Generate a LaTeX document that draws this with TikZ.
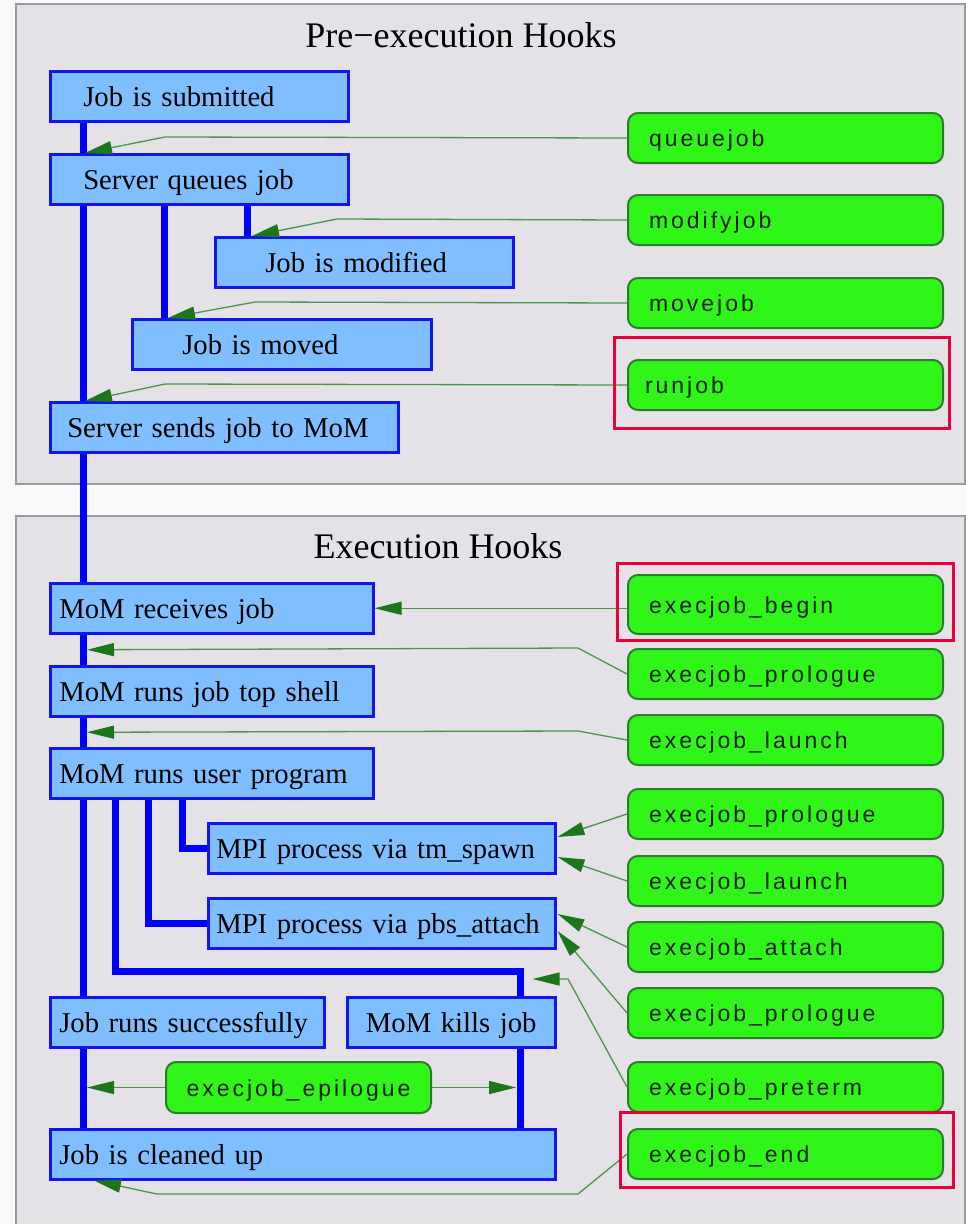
\documentclass[tikz,border=0pt]{standalone}
\usepackage{fontspec}
\setmainfont{Liberation Serif}
\newfontfamily\hookfont[LetterSpace=13]{Liberation Sans}
\usetikzlibrary{arrows.meta,calc}
\definecolor{pagebg}{HTML}{FAF8FA}
\definecolor{clusterfill}{HTML}{E4E2E6}
\definecolor{clusterline}{HTML}{9B9B9B}
\definecolor{bluefill}{HTML}{7FBFFF}
\definecolor{blueborder}{HTML}{1414F0}
\definecolor{pipeblue}{HTML}{0000FF}
\definecolor{hookfill}{HTML}{30F519}
\definecolor{hookborder}{HTML}{2D7D2D}
\definecolor{edgegreen}{HTML}{4A964A}
\definecolor{arrowgreen}{HTML}{1C761C}
\definecolor{markred}{HTML}{E8003C}
\definecolor{hooktext}{HTML}{102010}
\pgfdeclarelayer{bg}
\pgfdeclarelayer{pipes}
\pgfsetlayers{bg,pipes,main}
\begin{document}
\begin{tikzpicture}[x=1pt,y=-1pt,
  cluster/.style={draw=clusterline, fill=clusterfill, line width=1.5pt},
  title/.style={anchor=base, font=\fontsize{36}{40}\selectfont},
  bluebox/.style={draw=blueborder, fill=bluefill, line width=2.5pt, minimum height=50pt,
    inner ysep=0pt, anchor=north west, font=\fontsize{28.7}{32}\selectfont,
    text height=24pt, text depth=4pt, align=left},
  hookbox/.style={draw=hookborder, fill=hookfill, line width=2pt, rounded corners=10pt,
    minimum height=50pt, inner ysep=0pt, anchor=north west, text=hooktext,
    font=\hookfont\fontsize{23}{25}\selectfont, text height=20pt, text depth=3pt, align=left},
  pipe/.style={draw=pipeblue, line width=7pt, line join=miter},
  hookedge/.style={draw=edgegreen, line width=1.3pt,
    -{Triangle[length=27pt,width=13pt,color=arrowgreen,fill=arrowgreen]}},
  redmark/.style={draw=markred, line width=3pt}]
\useasboundingbox (0,0) rectangle (966,1224);
\begin{pgfonlayer}{bg}
  \fill[pagebg] (0,0) rectangle (966,1224);
  \draw[cluster] (16,4) rectangle (965,484);
  \draw[cluster] (16,516) rectangle (965,1240);
\end{pgfonlayer}
\node[title] (t1) at (461,47) {Pre−execution Hooks};
\node[title] (t2) at (438,558) {Execution Hooks};

% blue process boxes
\node[bluebox, text width=232pt, inner xsep=33pt] (sub) at (49,70) {Job is submitted};
\node[bluebox, text width=232pt, inner xsep=33pt] (queues) at (49,153) {Server queues job};
\node[bluebox, text width=198pt, inner xsep=50pt] (modified) at (214,236) {Job is modified};
\node[bluebox, text width=199pt, inner xsep=50pt] (moved) at (131,318) {Job is moved};
\node[bluebox, text width=314pt, inner xsep=17pt] (sends) at (49,401) {Server sends job to MoM};
\node[bluebox, text width=305pt, inner xsep=9pt] (receives) at (49,582) {MoM receives job};
\node[bluebox, text width=305pt, inner xsep=9pt] (topshell) at (49,665) {MoM runs job top shell};
\node[bluebox, text width=305pt, inner xsep=9pt] (userprog) at (49,747) {MoM runs user program};
\node[bluebox, text width=331pt, inner xsep=8pt] (tmspawn) at (207,822) {MPI process via tm\_spawn};
\node[bluebox, text width=331pt, inner xsep=8pt] (pbs) at (207,897) {MPI process via pbs\_attach};
\node[bluebox, text width=256pt, inner xsep=9pt] (success) at (49,996) {Job runs successfully};
\node[bluebox, text width=208pt, inner xsep=0pt, align=center] (kills) at (346,996) {MoM kills job};
\node[bluebox, text width=487pt, inner xsep=9pt] (cleaned) at (49,1128) {Job is cleaned up};

% green hook boxes
\node[hookbox, text width=273pt, inner xsep=21pt] (hq) at (627,112) {queuejob};
\node[hookbox, text width=273pt, inner xsep=21pt] (hm) at (627,194) {modifyjob};
\node[hookbox, text width=273pt, inner xsep=21pt] (hmv) at (627,277) {movejob};
\node[hookbox, text width=281pt, inner xsep=17pt] (hr) at (627,359) {runjob};
\node[hookbox, text width=273pt, inner xsep=21pt, minimum height=59pt] (hb) at (627,574) {execjob\_begin};
\node[hookbox, text width=273pt, inner xsep=21pt] (hp1) at (627,648) {execjob\_prologue};
\node[hookbox, text width=273pt, inner xsep=21pt] (hl1) at (627,714) {execjob\_launch};
\node[hookbox, text width=273pt, inner xsep=21pt] (hp2) at (627,788) {execjob\_prologue};
\node[hookbox, text width=273pt, inner xsep=21pt] (hl2) at (627,855) {execjob\_launch};
\node[hookbox, text width=273pt, inner xsep=21pt] (hat) at (627,921) {execjob\_attach};
\node[hookbox, text width=273pt, inner xsep=21pt] (hp3) at (627,987) {execjob\_prologue};
\node[hookbox, text width=273pt, inner xsep=21pt] (hpt) at (627,1061) {execjob\_preterm};
\node[hookbox, text width=273pt, inner xsep=21pt] (he) at (627,1128) {execjob\_end};
\node[hookbox, text width=265pt, inner xsep=0pt, align=center, minimum height=51pt] (hep) at (165,1061) {execjob\_epilogue};

% columns of the pipes
\coordinate (cA) at (83,0);
\coordinate (cB) at (164,0);
\coordinate (cC) at (247,0);
\coordinate (cD) at (115,0);
\coordinate (cE) at (148,0);
\coordinate (cF) at (182,0);
\coordinate (cG) at (520,0);
\coordinate (elbow) at (0,971);

\begin{pgfonlayer}{pipes}
  \draw[pipe] (cA |- sub.south) -- (cA |- queues.north);
  \draw[pipe] (cA |- queues.south) -- (cA |- sends.north);
  \draw[pipe] (cB |- queues.south) -- (cB |- moved.north);
  \draw[pipe] (cC |- queues.south) -- (cC |- modified.north);
  \draw[pipe] (cA |- sends.south) -- (cA |- receives.north);
  \draw[pipe] (cA |- receives.south) -- (cA |- topshell.north);
  \draw[pipe] (cA |- topshell.south) -- (cA |- userprog.north);
  \draw[pipe] (cA |- userprog.south) -- (cA |- success.north);
  \draw[pipe] (cA |- success.south) -- (cA |- cleaned.north);
  \draw[pipe] (cF |- userprog.south) -- (cF |- tmspawn.west) -- (tmspawn.west);
  \draw[pipe] (cE |- userprog.south) -- (cE |- pbs.west) -- (pbs.west);
  \draw[pipe] (cD |- userprog.south) -- (cD |- elbow) -- (cG |- elbow) -- (cG |- kills.north);
  \draw[pipe] (cG |- kills.south) -- (cG |- cleaned.north);
\end{pgfonlayer}

% hook connectors
\coordinate (g1) at ($(receives.south)!0.5!(topshell.north)$);
\coordinate (g2) at ($(topshell.south)!0.5!(userprog.north)$);
\draw[hookedge] (hq.west) -- (165,137) -- ($(queues.north west)+(36,0)$);
\draw[hookedge] (hm.west) -- (337,219) -- ($(modified.north west)+(38,0)$);
\draw[hookedge] (hmv.west) -- (255,302) -- ($(moved.north west)+(37,0)$);
\draw[hookedge] (hr.west) -- (165,384) -- ($(sends.north west)+(36,0)$);
\draw[hookedge] (receives.east -| hb.west) -- (receives.east);
\draw[hookedge] (hp1.west) -- (578,648) -- ($(cA |- g1)+(4,0)$);
\draw[hookedge] (hl1.west) -- (578,731) -- ($(cA |- g2)+(4,0)$);
\draw[hookedge] (hp2.west) -- ($(tmspawn.north east)+(1,15)$);
\draw[hookedge] (hl2.west) -- ($(tmspawn.north east)+(1,35)$);
\draw[hookedge] (hat.west) -- ($(pbs.north east)+(1,17)$);
\draw[hookedge] (hp3.west) -- ($(pbs.north east)+(1,34)$);
\draw[hookedge] (hpt.west) -- (568,979) -- ($(kills.north east)+(-24,-17)$);
\draw[hookedge] (he.west) -- (578,1194) -- (157,1194) -- ($(cleaned.south west)+(45,0)$);
\draw[hookedge] (hep.west) -- ($(cA |- hep.west)+(4,0)$);
\draw[hookedge] (hep.east) -- ($(cG |- hep.east)+(-4,0)$);

% red highlight frames
\draw[redmark] (614,337) rectangle (949,428);
\draw[redmark] (617,563) rectangle (953,640);
\draw[redmark] (620,1112) rectangle (953,1187);
\end{tikzpicture}
\end{document}
